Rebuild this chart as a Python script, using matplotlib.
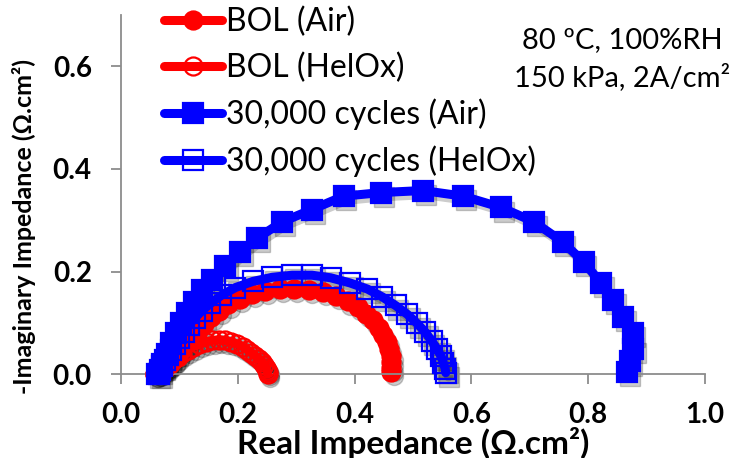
import matplotlib
matplotlib.use("Agg")
import matplotlib.pyplot as plt
import matplotlib.transforms as mtransforms
from matplotlib.ticker import FormatStrFormatter

plt.rcParams['font.family'] = ['Lato', 'DejaVu Sans']

# Nyquist data, real / -imaginary impedance (ohm.cm2)
bol_air_re = [0.058, 0.064, 0.070, 0.077, 0.084, 0.091, 0.098, 0.105, 0.113, 0.122,
              0.131, 0.142, 0.154, 0.168, 0.184, 0.203, 0.224, 0.247, 0.272, 0.297,
              0.322, 0.346, 0.368, 0.388, 0.405, 0.419, 0.431, 0.441, 0.449, 0.455,
              0.459, 0.462, 0.463, 0.463, 0.462]
bol_air_im = [0.000, 0.002, 0.006, 0.012, 0.020, 0.029, 0.039, 0.050, 0.061, 0.073,
              0.085, 0.098, 0.111, 0.124, 0.136, 0.147, 0.156, 0.162, 0.166, 0.167,
              0.165, 0.160, 0.152, 0.142, 0.131, 0.118, 0.105, 0.091, 0.077, 0.063,
              0.049, 0.036, 0.024, 0.013, 0.004]

bol_helox_re = [0.058, 0.063, 0.069, 0.075, 0.082, 0.089, 0.097, 0.105, 0.114, 0.124,
                0.134, 0.145, 0.156, 0.167, 0.178, 0.189, 0.199, 0.208, 0.216, 0.223,
                0.230, 0.236, 0.241, 0.245, 0.248, 0.250, 0.251, 0.251]
bol_helox_im = [0.000, 0.003, 0.008, 0.014, 0.020, 0.027, 0.034, 0.041, 0.048, 0.054,
                0.059, 0.063, 0.066, 0.067, 0.066, 0.063, 0.059, 0.054, 0.048, 0.042,
                0.036, 0.030, 0.024, 0.018, 0.013, 0.008, 0.004, 0.001]

cyc_air_re = [0.065, 0.071, 0.078, 0.086, 0.094, 0.103, 0.113, 0.125, 0.138, 0.156,
              0.178, 0.204, 0.233, 0.276, 0.327, 0.381, 0.445, 0.517, 0.586, 0.651,
              0.707, 0.756, 0.792, 0.822, 0.842, 0.860, 0.876, 0.877, 0.871, 0.866]
cyc_air_im = [0.000, 0.020, 0.040, 0.060, 0.080, 0.100, 0.119, 0.141, 0.164, 0.184,
              0.210, 0.239, 0.265, 0.297, 0.321, 0.347, 0.354, 0.358, 0.347, 0.325,
              0.297, 0.258, 0.219, 0.178, 0.145, 0.112, 0.080, 0.050, 0.025, 0.004]

cyc_helox_re = [0.062, 0.066, 0.070, 0.075, 0.080, 0.086, 0.092, 0.099, 0.107, 0.116,
                0.126, 0.138, 0.153, 0.172, 0.196, 0.226, 0.259, 0.293, 0.327, 0.359,
                0.392, 0.422, 0.447, 0.470, 0.490, 0.507, 0.521, 0.532, 0.541, 0.548,
                0.552, 0.555, 0.556]
cyc_helox_im = [0.000, 0.008, 0.017, 0.027, 0.037, 0.048, 0.059, 0.071, 0.083, 0.096,
                0.109, 0.123, 0.138, 0.154, 0.169, 0.181, 0.189, 0.193, 0.193, 0.188,
                0.178, 0.166, 0.151, 0.134, 0.117, 0.099, 0.082, 0.065, 0.049, 0.035,
                0.022, 0.011, 0.003]

labels = ['BOL (Air)', 'BOL (HelOx)', '30,000 cycles (Air)', '30,000 cycles (HelOx)']
x_ticks = [0.0, 0.2, 0.4, 0.6, 0.8, 1.0]
y_ticks = [0.0, 0.2, 0.4, 0.6]

fig = plt.figure(figsize=(7.3, 4.58), dpi=100)
ax = fig.add_axes([0.1658, 0.1828, 0.80, 0.7845])

series = [
    (bol_air_re, bol_air_im, 'red', 'o', 'red', 13),
    (bol_helox_re, bol_helox_im, 'red', 'o', 'none', 13),
    (cyc_air_re, cyc_air_im, 'blue', 's', 'blue', 14),
    (cyc_helox_re, cyc_helox_im, 'blue', 's', 'none', 14),
]

# soft drop shadow under each curve
shadow = ax.transData + mtransforms.ScaledTranslation(2 / 72, -3 / 72, fig.dpi_scale_trans)
for x, y, c, m, fc, ms in series:
    ax.plot(x, y, color='black', lw=6.5, marker=m, ms=ms, mfc='black', mec='black',
            alpha=0.2, transform=shadow, clip_on=False, zorder=1,
            solid_capstyle='round', solid_joinstyle='round')

handles = []
for i, (x, y, c, m, fc, ms) in enumerate(series):
    h, = ax.plot(x, y, color=c, lw=6.5, marker=m, ms=ms, mfc=fc, mec=c, mew=1.6,
                 clip_on=False, zorder=2 + i, label=labels[i],
                 solid_capstyle='round', solid_joinstyle='round')
    handles.append(h)

ax.set_xlim(0, 1.0)
ax.set_ylim(0, 0.7)
ax.set_xticks(x_ticks)
ax.set_yticks(y_ticks)
ax.xaxis.set_major_formatter(FormatStrFormatter('%.1f'))
ax.yaxis.set_major_formatter(FormatStrFormatter('%.1f'))

for side in ['top', 'right']:
    ax.spines[side].set_visible(False)
for side in ['left', 'bottom']:
    ax.spines[side].set_color('#8c8c8c')
    ax.spines[side].set_linewidth(1.3)
ax.tick_params(direction='out', length=7, width=1.3, color='#8c8c8c', labelsize=20)
ax.tick_params(axis='x', pad=13)
ax.tick_params(axis='y', pad=14)
for lab in ax.get_xticklabels() + ax.get_yticklabels():
    lab.set_fontweight('bold')

ax.set_xlabel('Real Impedance (\u03a9.cm\u00b2)', fontsize=24, fontweight='bold', va='center')
ax.xaxis.set_label_coords(0.5, -0.19)
ax.set_ylabel('-Imaginary Impedance (\u03a9.cm\u00b2)', fontsize=18, fontweight='bold', va='center')
ax.yaxis.set_label_coords(-0.166, 0.41)

fig.legend(handles=handles, loc='upper left', bbox_to_anchor=(164 / 730, 1 - 7 / 458),
           frameon=False, fontsize=23, handlelength=1.8, handletextpad=0.15,
           labelspacing=0.48, borderpad=0, borderaxespad=0)

fig.text(622 / 730, 1 - 40 / 458, '80 \u00baC, 100%RH', ha='center', va='center', fontsize=21)
fig.text(622 / 730, 1 - 77 / 458, '150 kPa, 2A/cm\u00b2', ha='center', va='center', fontsize=21)

fig.savefig('out.png', dpi=100)
